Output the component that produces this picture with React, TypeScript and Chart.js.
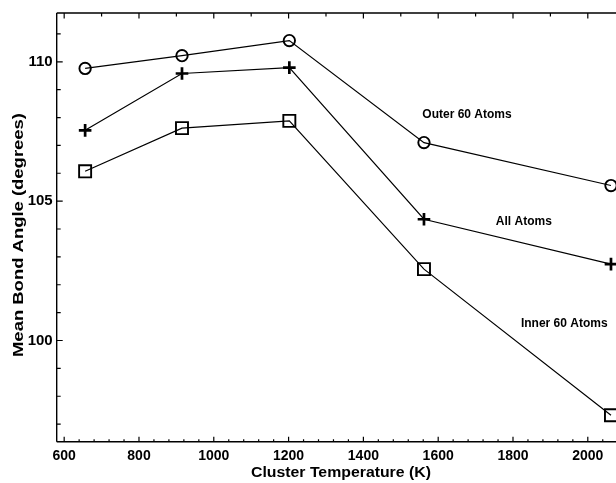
import React, { useEffect, useRef } from "react";
import { Chart, registerables } from "chart.js";

Chart.register(...registerables);

// ---- data ----
const temperatures = [656, 915, 1202, 1562, 2062];
const outer60 = [109.76, 110.22, 110.76, 107.1, 105.56];
const allAtoms = [107.54, 109.58, 109.79, 104.35, 102.74];
const inner60 = [106.07, 107.62, 107.88, 102.56, 97.32];

const seriesNames = ["Outer 60 Atoms", "All Atoms", "Inner 60 Atoms"];
// label anchors in data coordinates (temperature, angle)
const labelTemps = [1677, 1829, 1937];
const labelAngles = [108.1, 104.28, 100.62];

const xLabelTicks = [600, 800, 1000, 1200, 1400, 1600, 1800, 2000];
const yLabelTicks = [100, 105, 110];
const xMin = 580;
const xMax = 2100;
const yMin = 96.37;
const yMax = 111.75;

const xTitle = "Cluster Temperature (K)";
const yTitle = "Mean Bond Angle (degrees)";

const FONT = "'Liberation Sans', Arial, Helvetica, sans-serif";

function drawStretched(
  ctx: CanvasRenderingContext2D,
  text: string,
  cx: number,
  cy: number,
  rot: number,
  size: number,
  targetWidth: number
) {
  ctx.save();
  ctx.font = `bold ${size}px ${FONT}`;
  const w = ctx.measureText(text).width;
  ctx.translate(cx, cy);
  ctx.rotate(rot);
  ctx.scale(targetWidth / w, 1);
  ctx.textAlign = "center";
  ctx.textBaseline = "middle";
  ctx.fillStyle = "#000";
  ctx.fillText(text, 0, 0);
  ctx.restore();
}

const framePlugin = {
  id: "frame",
  afterDraw(chart: any) {
    const { ctx, chartArea } = chart;
    const xs = chart.scales.x;
    const ys = chart.scales.y;
    const { left, right, top, bottom } = chartArea;
    ctx.save();
    ctx.strokeStyle = "#000";
    ctx.lineWidth = 1.4;
    ctx.beginPath();
    ctx.moveTo(left, top);
    ctx.lineTo(right, top);
    ctx.moveTo(left, top);
    ctx.lineTo(left, bottom);
    ctx.moveTo(left, bottom);
    ctx.lineTo(right, bottom);
    ctx.stroke();

    ctx.lineWidth = 1.2;
    ctx.beginPath();
    // bottom ticks every 40
    for (let v = 600; v <= xMax; v += 40) {
      const px = xs.getPixelForValue(v);
      const len = v % 200 === 0 ? 5 : 2.5;
      ctx.moveTo(px, bottom);
      ctx.lineTo(px, bottom - len);
    }
    // top ticks every 100
    for (let v = 600; v <= xMax; v += 100) {
      const px = xs.getPixelForValue(v);
      const len = v % 200 === 0 ? 5.5 : 3.5;
      ctx.moveTo(px, top);
      ctx.lineTo(px, top + len);
    }
    // left ticks every 1
    for (let v = 97; v <= 111; v += 1) {
      const py = ys.getPixelForValue(v);
      const len = v % 5 === 0 ? 6 : 4;
      ctx.moveTo(left, py);
      ctx.lineTo(left + len, py);
    }
    ctx.stroke();

    // series labels
    ctx.font = `bold 12px ${FONT}`;
    ctx.fillStyle = "#000";
    ctx.textAlign = "center";
    ctx.textBaseline = "middle";
    seriesNames.forEach((name, i) => {
      ctx.fillText(
        name,
        xs.getPixelForValue(labelTemps[i]),
        ys.getPixelForValue(labelAngles[i])
      );
    });
    ctx.restore();

    // axis titles
    drawStretched(ctx, xTitle, (left + right) / 2, 472.7, 0, 14.5, 180);
    drawStretched(ctx, yTitle, 19, 235, -Math.PI / 2, 15, 244);
  },
};

export default function App() {
  const ref = useRef<HTMLCanvasElement | null>(null);

  useEffect(() => {
    if (!ref.current) return;
    const chart = new Chart(ref.current, {
      type: "line",
      data: {
        datasets: [
          {
            label: seriesNames[0],
            data: temperatures.map((t, i) => ({ x: t, y: outer60[i] })),
            borderColor: "#000",
            borderWidth: 1.2,
            pointStyle: "circle",
            pointRadius: 5.7,
            pointBorderWidth: 1.9,
            pointBackgroundColor: "rgba(0,0,0,0)",
            pointBorderColor: "#000",
            fill: false,
          },
          {
            label: seriesNames[1],
            data: temperatures.map((t, i) => ({ x: t, y: allAtoms[i] })),
            borderColor: "#000",
            borderWidth: 1.2,
            pointStyle: "cross",
            pointRadius: 6.3,
            pointBorderWidth: 2.7,
            pointBackgroundColor: "rgba(0,0,0,0)",
            pointBorderColor: "#000",
            fill: false,
          },
          {
            label: seriesNames[2],
            data: temperatures.map((t, i) => ({ x: t, y: inner60[i] })),
            borderColor: "#000",
            borderWidth: 1.2,
            pointStyle: "rect",
            pointRadius: 8.5,
            pointBorderWidth: 1.9,
            pointBackgroundColor: "rgba(0,0,0,0)",
            pointBorderColor: "#000",
            fill: false,
          },
        ],
      },
      options: {
        animation: false,
        responsive: true,
        maintainAspectRatio: false,
        layout: { padding: { top: 11, right: 34.8, left: 0, bottom: 0 } },
        plugins: {
          legend: { display: false },
          tooltip: { enabled: false },
          title: { display: false },
        },
        scales: {
          x: {
            type: "linear",
            min: xMin,
            max: xMax,
            grid: { display: false, drawTicks: false },
            border: { display: false },
            afterBuildTicks: (scale: any) => {
              scale.ticks = xLabelTicks.map((v) => ({ value: v }));
            },
            afterFit: (scale: any) => {
              scale.height = 41.3;
            },
            ticks: {
              autoSkip: false,
              maxRotation: 0,
              padding: 6.5,
              color: "#000",
              font: { family: FONT, size: 14, weight: "bold" },
              callback: (v: any) => String(v),
            },
          },
          y: {
            type: "linear",
            min: yMin,
            max: yMax,
            grid: { display: false, drawTicks: false },
            border: { display: false },
            afterBuildTicks: (scale: any) => {
              scale.ticks = yLabelTicks.map((v) => ({ value: v }));
            },
            afterFit: (scale: any) => {
              scale.width = 56.7;
            },
            ticks: {
              autoSkip: false,
              padding: 4,
              color: "#000",
              font: { family: FONT, size: 15, weight: "bold" },
              callback: (v: any) => String(v),
            },
          },
        },
      },
      plugins: [framePlugin],
    } as any);
    return () => chart.destroy();
  }, []);

  return (
    <div
      style={{
        position: "fixed",
        left: 0,
        top: 0,
        width: 616,
        height: 483,
        overflow: "hidden",
        background: "#fff",
      }}
    >
      <div style={{ position: "absolute", left: 0, top: 0, width: 660, height: 483 }}>
        <canvas ref={ref} />
      </div>
    </div>
  );
}
